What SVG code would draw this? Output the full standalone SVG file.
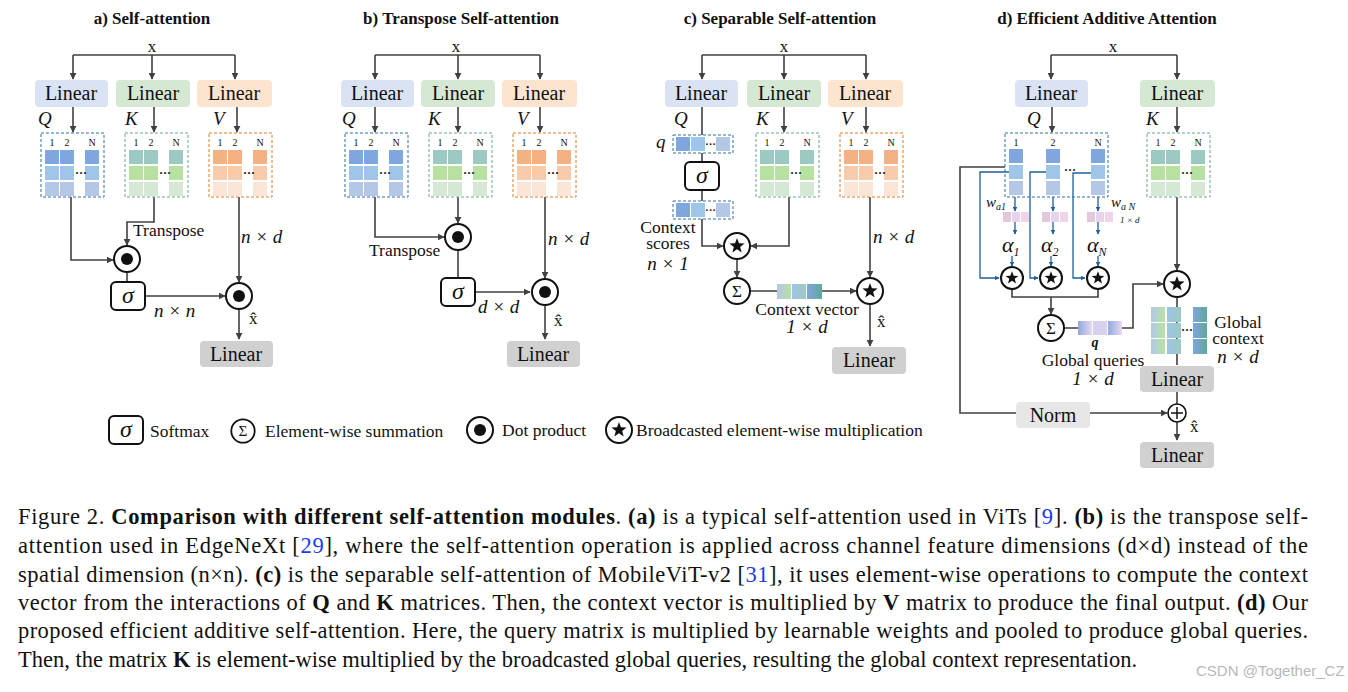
<svg xmlns="http://www.w3.org/2000/svg" xmlns:xlink="http://www.w3.org/1999/xlink" width="1348" height="692" viewBox="0 0 1348 692">
<style>
text{font-family:"Liberation Serif","Times New Roman",serif;fill:#111}
.t{font-size:17px;font-weight:bold;text-anchor:middle}
.lin{font-size:20px;text-anchor:middle}
.it{font-style:italic;font-size:19px}
.sm{font-size:17.5px}
.hd{font-size:10px;text-anchor:middle}
.ln{fill:none;stroke:#404040;stroke-width:1.6}
.bl{fill:none;stroke:#1f5f99;stroke-width:1.3}
.cap{font-size:22.5px}
.b{font-weight:bold}
.ref{fill:#1a3cf0}
</style>
<defs>
<marker id="ar" viewBox="0 0 10 10" refX="9" refY="5" markerWidth="7" markerHeight="7" orient="auto" markerUnits="userSpaceOnUse"><path d="M0,0L10,5L0,10z" fill="#404040"/></marker>
<marker id="ab" viewBox="0 0 10 10" refX="9" refY="5" markerWidth="5" markerHeight="5" orient="auto" markerUnits="userSpaceOnUse"><path d="M0,0L10,5L0,10z" fill="#1f5f99"/></marker>
<g id="mQ"><rect x="0" y="0" width="63" height="64" fill="none" stroke="#2e6f9e" stroke-dasharray="3,2"/>
<text class="hd" x="11" y="13">1</text><text class="hd" x="26" y="13">2</text><text class="hd" x="51" y="13">N</text>
<g fill="#7fa6de"><rect x="4" y="17" width="14" height="14"/><rect x="19" y="17" width="14" height="14"/><rect x="44" y="17" width="14" height="14"/></g>
<g fill="#9fc5e8"><rect x="4" y="33" width="14" height="14"/><rect x="19" y="33" width="14" height="14"/><rect x="44" y="33" width="14" height="14"/></g>
<g fill="#b4c7e7"><rect x="4" y="49" width="14" height="14"/><rect x="19" y="49" width="14" height="14"/><rect x="44" y="49" width="14" height="14"/></g>
<text x="34" y="44" font-size="12" font-weight="bold">···</text></g>
<g id="mK"><rect x="0" y="0" width="63" height="64" fill="none" stroke="#6aa39a" stroke-dasharray="3,2"/>
<text class="hd" x="11" y="13">1</text><text class="hd" x="26" y="13">2</text><text class="hd" x="51" y="13">N</text>
<g fill="#9cc9c1"><rect x="4" y="17" width="14" height="14"/><rect x="19" y="17" width="14" height="14"/><rect x="44" y="17" width="14" height="14"/></g>
<g fill="#b7e1a1"><rect x="4" y="33" width="14" height="14"/><rect x="19" y="33" width="14" height="14"/><rect x="44" y="33" width="14" height="14"/></g>
<g fill="#d5e8d4"><rect x="4" y="49" width="14" height="14"/><rect x="19" y="49" width="14" height="14"/><rect x="44" y="49" width="14" height="14"/></g>
<text x="34" y="44" font-size="12" font-weight="bold">···</text></g>
<g id="mV"><rect x="0" y="0" width="63" height="64" fill="none" stroke="#e07b24" stroke-dasharray="3,2"/>
<text class="hd" x="11" y="13">1</text><text class="hd" x="26" y="13">2</text><text class="hd" x="51" y="13">N</text>
<g fill="#f4b183"><rect x="4" y="17" width="14" height="14"/><rect x="19" y="17" width="14" height="14"/><rect x="44" y="17" width="14" height="14"/></g>
<g fill="#f8cbad"><rect x="4" y="33" width="14" height="14"/><rect x="19" y="33" width="14" height="14"/><rect x="44" y="33" width="14" height="14"/></g>
<g fill="#fbe5d6"><rect x="4" y="49" width="14" height="14"/><rect x="19" y="49" width="14" height="14"/><rect x="44" y="49" width="14" height="14"/></g>
<text x="34" y="44" font-size="12" font-weight="bold">···</text></g>
<g id="dot"><circle r="13" fill="#fff" stroke="#111" stroke-width="2"/><circle r="6" fill="#111"/></g>
<g id="star"><circle r="13" fill="#fff" stroke="#111" stroke-width="2"/><polygon fill="#111" points="0,-8 1.94,-2.67 7.61,-2.47 3.14,1.02 4.70,6.47 0,3.3 -4.70,6.47 -3.14,1.02 -7.61,-2.47 -1.94,-2.67"/></g>
<g id="sstar"><circle r="11" fill="#fff" stroke="#111" stroke-width="2"/><polygon fill="#111" transform="scale(0.85)" points="0,-8 1.94,-2.67 7.61,-2.47 3.14,1.02 4.70,6.47 0,3.3 -4.70,6.47 -3.14,1.02 -7.61,-2.47 -1.94,-2.67"/></g>
<g id="sum"><circle r="13" fill="#fff" stroke="#111" stroke-width="2"/><text y="6" font-size="17" text-anchor="middle">Σ</text></g>
<g id="sig"><rect x="-17" y="-14" width="34" height="28" rx="5" fill="#fff" stroke="#111" stroke-width="2"/><text y="7" font-size="24" font-style="italic" text-anchor="middle">σ</text></g>
<linearGradient id="g1"><stop offset="0" stop-color="#b4c7e7"/><stop offset="1" stop-color="#b7e1a1"/></linearGradient>
<linearGradient id="g2"><stop offset="0" stop-color="#9fc5e8"/><stop offset="1" stop-color="#9cc9c1"/></linearGradient>
<linearGradient id="g3"><stop offset="0" stop-color="#7fa6de"/><stop offset="1" stop-color="#5fa89a"/></linearGradient>
<linearGradient id="g4"><stop offset="0" stop-color="#8fa8e0"/><stop offset="1" stop-color="#e8d8f0"/></linearGradient>
<g id="pk"><rect x="0" y="0" width="8" height="10" fill="#e2c8dc"/><rect x="9" y="0" width="8" height="10" fill="#e6d4ec"/><rect x="18" y="0" width="8" height="10" fill="#f0d4ea"/></g>
</defs>

<text class="t" x="152" y="24">a) Self-attention</text>
<text class="t" x="461" y="24">b) Transpose Self-attention</text>
<text class="t" x="780" y="24">c) Separable Self-attention</text>
<text class="t" x="1107" y="24">d) Efficient Additive Attention</text>
<text x="152" y="52" font-size="17" text-anchor="middle">x</text>
<text x="456" y="52" font-size="17" text-anchor="middle">x</text>
<text x="784" y="52" font-size="17" text-anchor="middle">x</text>
<text x="1113" y="52" font-size="17" text-anchor="middle">x</text>

<g id="connectors">
<path class="ln" d="M73,55H235"/>
<path class="ln" d="M73,55V79" marker-end="url(#ar)"/><path class="ln" d="M152,55V79" marker-end="url(#ar)"/><path class="ln" d="M235,55V79" marker-end="url(#ar)"/>
<path class="ln" d="M73,107V132" marker-end="url(#ar)"/><path class="ln" d="M154,107V132" marker-end="url(#ar)"/><path class="ln" d="M237,107V132" marker-end="url(#ar)"/>
<path class="ln" d="M71,197V260H113" marker-end="url(#ar)"/>
<path class="ln" d="M154,197V222H127V245" marker-end="url(#ar)"/>
<path class="ln" d="M127,272V283"/>
<path class="ln" d="M145,296H225" marker-end="url(#ar)"/>
<path class="ln" d="M239,197V282" marker-end="url(#ar)"/>
<path class="ln" d="M239,309V339" marker-end="url(#ar)"/>
<path class="ln" d="M375,55H540"/>
<path class="ln" d="M375,55V79" marker-end="url(#ar)"/><path class="ln" d="M458,55V79" marker-end="url(#ar)"/><path class="ln" d="M540,55V79" marker-end="url(#ar)"/>
<path class="ln" d="M375,107V132" marker-end="url(#ar)"/><path class="ln" d="M458,107V132" marker-end="url(#ar)"/><path class="ln" d="M540,107V132" marker-end="url(#ar)"/>
<path class="ln" d="M375,197V237H444" marker-end="url(#ar)"/>
<path class="ln" d="M458,197V223" marker-end="url(#ar)"/>
<path class="ln" d="M458,250V278"/>
<path class="ln" d="M475,292H530" marker-end="url(#ar)"/>
<path class="ln" d="M545,197V278" marker-end="url(#ar)"/>
<path class="ln" d="M545,305V339" marker-end="url(#ar)"/>
<path class="ln" d="M702,55H866"/>
<path class="ln" d="M702,55V79" marker-end="url(#ar)"/><path class="ln" d="M784,55V79" marker-end="url(#ar)"/><path class="ln" d="M866,55V79" marker-end="url(#ar)"/>
<path class="ln" d="M702,107V135M702,153V162M702,188V201"/>
<path class="ln" d="M784,107V132" marker-end="url(#ar)"/><path class="ln" d="M866,107V132" marker-end="url(#ar)"/>
<path class="ln" d="M702,219V246H723" marker-end="url(#ar)"/>
<path class="ln" d="M789,197V246H751" marker-end="url(#ar)"/>
<path class="ln" d="M737,259V277" marker-end="url(#ar)"/>
<path class="ln" d="M750,291H777M822,291H856" marker-end="url(#ar)"/>
<path class="ln" d="M870,197V277" marker-end="url(#ar)"/>
<path class="ln" d="M870,305V346" marker-end="url(#ar)"/>
<path class="ln" d="M1051,55H1177"/>
<path class="ln" d="M1051,55V79" marker-end="url(#ar)"/><path class="ln" d="M1177,55V79" marker-end="url(#ar)"/>
<path class="ln" d="M1052,107V132" marker-end="url(#ar)"/><path class="ln" d="M1177,107V132" marker-end="url(#ar)"/>
<path class="bl" d="M1009,172H980V278H999" marker-end="url(#ab)"/>
<path class="bl" d="M1047,172H1030V278H1038" marker-end="url(#ab)"/>
<path class="bl" d="M1091,173H1073V278H1085" marker-end="url(#ab)"/>
<path class="bl" d="M1015,197V211" marker-end="url(#ab)"/><path class="bl" d="M1053,197V211" marker-end="url(#ab)"/><path class="bl" d="M1098,197V211" marker-end="url(#ab)"/>
<path class="bl" d="M1015,222V234" marker-end="url(#ab)"/><path class="bl" d="M1053,222V234" marker-end="url(#ab)"/><path class="bl" d="M1098,222V234" marker-end="url(#ab)"/>
<path class="bl" d="M1012,256V266" marker-end="url(#ab)"/><path class="bl" d="M1051,256V266" marker-end="url(#ab)"/><path class="bl" d="M1098,256V266" marker-end="url(#ab)"/>
<path class="ln" d="M1012,289V297H1098V289"/>
<path class="ln" d="M1051,297V314" marker-end="url(#ar)"/>
<path class="ln" d="M1064,328H1078M1122,328H1133V284H1163" marker-end="url(#ar)"/>
<path class="ln" d="M1177,197V270" marker-end="url(#ar)"/>
<path class="ln" d="M1177,297V365M1177,392V404"/>
<path class="ln" d="M1005,167H960V413H1016M1090,413H1167" marker-end="url(#ar)"/>
<path class="ln" d="M1177,422V440" marker-end="url(#ar)"/>
</g>

<g id="a-lin"><rect x="35" y="80" width="73" height="27" rx="4" fill="#dae3f3"/><text class="lin" x="71" y="100">Linear</text>
<rect x="116" y="80" width="74" height="27" rx="4" fill="#d5e8d4"/><text class="lin" x="153" y="100">Linear</text>
<rect x="197" y="80" width="75" height="27" rx="4" fill="#fde4cf"/><text class="lin" x="234" y="100">Linear</text>
<rect x="200" y="341" width="73" height="26" rx="4" fill="#d0d0d0"/><text class="lin" x="236" y="361">Linear</text></g>
<g id="a-mat"><use xlink:href="#mQ" x="41" y="133"/><use xlink:href="#mK" x="125" y="133"/><use xlink:href="#mV" x="209" y="133"/>
<text class="it" x="38" y="125">Q</text><text class="it" x="125" y="125">K</text><text class="it" x="213" y="125">V</text></g>
<g id="a-ops"><use xlink:href="#dot" x="127" y="259"/><use xlink:href="#sig" x="128" y="296"/><use xlink:href="#dot" x="239" y="296"/>
<text class="sm" x="133" y="236">Transpose</text><text class="it" x="154" y="317">n × n</text><text class="it" x="241" y="243">n × d</text><text x="249" y="324" font-size="17">x̂</text></g>

<g id="b-lin"><rect x="341" y="80" width="73" height="27" rx="4" fill="#dae3f3"/><text class="lin" x="377" y="100">Linear</text>
<rect x="421" y="80" width="74" height="27" rx="4" fill="#d5e8d4"/><text class="lin" x="458" y="100">Linear</text>
<rect x="502" y="80" width="75" height="27" rx="4" fill="#fde4cf"/><text class="lin" x="539" y="100">Linear</text>
<rect x="507" y="341" width="73" height="26" rx="4" fill="#d0d0d0"/><text class="lin" x="543" y="361">Linear</text></g>
<g id="b-mat"><use xlink:href="#mQ" x="345" y="133"/><use xlink:href="#mK" x="429" y="133"/><use xlink:href="#mV" x="513" y="133"/>
<text class="it" x="342" y="125">Q</text><text class="it" x="428" y="125">K</text><text class="it" x="517" y="125">V</text></g>
<g id="b-ops"><use xlink:href="#dot" x="458" y="237"/><use xlink:href="#sig" x="458" y="292"/><use xlink:href="#dot" x="545" y="292"/>
<text class="sm" x="369" y="256">Transpose</text><text class="it" x="478" y="313">d × d</text><text class="it" x="548" y="245">n × d</text><text x="554" y="326" font-size="17">x̂</text></g>

<g id="c-lin"><rect x="665" y="80" width="73" height="27" rx="4" fill="#dae3f3"/><text class="lin" x="701" y="100">Linear</text>
<rect x="747" y="80" width="74" height="27" rx="4" fill="#d5e8d4"/><text class="lin" x="784" y="100">Linear</text>
<rect x="828" y="80" width="75" height="27" rx="4" fill="#fde4cf"/><text class="lin" x="865" y="100">Linear</text>
<rect x="832" y="347" width="74" height="27" rx="4" fill="#d0d0d0"/><text class="lin" x="869" y="367">Linear</text></g>
<g id="c-mat"><use xlink:href="#mK" x="756" y="133"/><use xlink:href="#mV" x="840" y="133"/>
<text class="it" x="674" y="125">Q</text><text class="it" x="756" y="125">K</text><text class="it" x="841" y="125">V</text>
<rect x="673" y="135" width="60" height="18" fill="none" stroke="#2e6f9e" stroke-dasharray="3,2"/>
<rect x="676" y="137" width="14" height="14" fill="#7fa6de"/><rect x="691" y="137" width="14" height="14" fill="#9fc5e8"/><rect x="716" y="137" width="14" height="14" fill="#b4c7e7"/><text x="705" y="148" font-size="11" font-weight="bold">···</text>
<rect x="673" y="201" width="60" height="18" fill="none" stroke="#2e6f9e" stroke-dasharray="3,2"/>
<rect x="676" y="203" width="14" height="14" fill="#7fa6de"/><rect x="691" y="203" width="14" height="14" fill="#9fc5e8"/><rect x="716" y="203" width="14" height="14" fill="#b4c7e7"/><text x="705" y="214" font-size="11" font-weight="bold">···</text>
<text class="it" x="656" y="148">q</text></g>
<g id="c-ops"><use xlink:href="#sig" x="702" y="176"/><use xlink:href="#star" x="737" y="246"/><use xlink:href="#sum" x="737" y="291"/><use xlink:href="#star" x="870" y="291"/>
<rect x="777" y="284" width="14" height="15" fill="url(#g1)"/><rect x="792" y="284" width="14" height="15" fill="url(#g2)"/><rect x="807" y="284" width="15" height="15" fill="url(#g3)"/>
<text class="sm" x="668" y="233" text-anchor="middle">Context</text><text class="sm" x="668" y="249" text-anchor="middle">scores</text><text class="it" x="668" y="270" text-anchor="middle">n × 1</text>
<text class="sm" x="807" y="315" text-anchor="middle">Context vector</text><text class="it" x="807" y="333" text-anchor="middle">1 × d</text>
<text class="it" x="873" y="243">n × d</text><text x="877" y="327" font-size="17">x̂</text></g>

<g id="d-lin"><rect x="1015" y="80" width="73" height="27" rx="4" fill="#dae3f3"/><text class="lin" x="1051" y="100">Linear</text>
<rect x="1140" y="80" width="75" height="27" rx="4" fill="#d5e8d4"/><text class="lin" x="1177" y="100">Linear</text>
<rect x="1140" y="366" width="74" height="26" rx="4" fill="#d0d0d0"/><text class="lin" x="1177" y="386">Linear</text>
<rect x="1016" y="402" width="74" height="26" rx="4" fill="#e6e6e6"/><text class="lin" x="1053" y="422">Norm</text>
<rect x="1140" y="442" width="74" height="26" rx="4" fill="#d0d0d0"/><text class="lin" x="1177" y="462">Linear</text></g>
<g id="d-mat"><text class="it" x="1027" y="125">Q</text><text class="it" x="1146" y="125">K</text>
<rect x="1005" y="133" width="103" height="64" fill="none" stroke="#2e6f9e" stroke-dasharray="3,2"/>
<text class="hd" x="1016" y="146">1</text><text class="hd" x="1053" y="146">2</text><text class="hd" x="1098" y="146">N</text>
<g fill="#7fa6de"><rect x="1009" y="149" width="14" height="14"/><rect x="1046" y="149" width="14" height="14"/><rect x="1091" y="149" width="14" height="14"/></g>
<g fill="#9fc5e8"><rect x="1009" y="165" width="14" height="14"/><rect x="1046" y="165" width="14" height="14"/><rect x="1091" y="165" width="14" height="14"/></g>
<g fill="#b4c7e7"><rect x="1009" y="181" width="14" height="14"/><rect x="1046" y="181" width="14" height="14"/><rect x="1091" y="181" width="14" height="14"/></g>
<text x="1064" y="174" font-size="12" font-weight="bold">···</text>
<use xlink:href="#mK" x="1147" y="133"/>
<use xlink:href="#pk" x="1003" y="212"/><use xlink:href="#pk" x="1042" y="212"/><use xlink:href="#pk" x="1087" y="212"/>
<text x="986" y="207" style="font-size:15px;font-style:italic">w<tspan style="font-size:10px" dy="3">a1</tspan></text>
<text x="1111" y="207" style="font-size:15px;font-style:italic">w<tspan style="font-size:10px" dy="3">a N</tspan></text><text x="1120" y="223" style="font-size:9px;font-style:italic">1 × d</text>
<text x="1002" y="252" style="font-size:22px;font-style:italic">α<tspan style="font-size:12px" dy="4">1</tspan></text>
<text x="1041" y="252" style="font-size:22px;font-style:italic">α<tspan style="font-size:12px" dy="4">2</tspan></text>
<text x="1087" y="252" style="font-size:22px;font-style:italic">α<tspan style="font-size:12px" dy="4">N</tspan></text></g>
<g id="d-ops"><use xlink:href="#sstar" x="1012" y="278"/><use xlink:href="#sstar" x="1051" y="278"/><use xlink:href="#sstar" x="1098" y="278"/>
<use xlink:href="#sum" x="1051" y="328"/><use xlink:href="#star" x="1177" y="284"/>
<rect x="1078" y="321" width="14" height="14" fill="url(#g4)"/><rect x="1093" y="321" width="14" height="14" fill="#d8d0ec"/><rect x="1108" y="321" width="14" height="14" fill="url(#g4)"/>
<text x="1095" y="347" text-anchor="middle" style="font-size:14px;font-style:italic;font-weight:bold">q</text>
<text class="sm" x="1093" y="366" text-anchor="middle">Global queries</text><text class="it" x="1093" y="385" text-anchor="middle">1 × d</text>
<g><rect x="1151" y="307" width="14" height="15" fill="url(#g1)"/><rect x="1167" y="307" width="14" height="15" fill="url(#g2)"/><rect x="1193" y="307" width="14" height="15" fill="url(#g3)"/>
<rect x="1151" y="323" width="14" height="15" fill="url(#g1)"/><rect x="1167" y="323" width="14" height="15" fill="url(#g2)"/><rect x="1193" y="323" width="14" height="15" fill="url(#g3)"/>
<rect x="1151" y="339" width="14" height="15" fill="url(#g1)"/><rect x="1167" y="339" width="14" height="15" fill="url(#g2)"/><rect x="1193" y="339" width="14" height="15" fill="url(#g3)"/>
<text x="1181" y="334" font-size="12" font-weight="bold">···</text></g>
<text class="sm" x="1238" y="328" text-anchor="middle">Global</text><text class="sm" x="1238" y="344" text-anchor="middle">context</text><text class="it" x="1238" y="363" text-anchor="middle">n × d</text>
<circle cx="1177" cy="413" r="9" fill="#fff" stroke="#111" stroke-width="1.6"/><path d="M1171,413H1183M1177,407V419" stroke="#111" stroke-width="1.5"/>
<text x="1190" y="432" font-size="17">x̂</text></g>

<g id="legend"><use xlink:href="#sig" x="126" y="430"/><text class="sm" x="150" y="437">Softmax</text>
<g transform="translate(243,431) scale(0.9)"><use xlink:href="#sum"/></g><text class="sm" x="265" y="437">Element-wise summation</text>
<use xlink:href="#dot" x="480" y="430"/><text class="sm" x="502" y="436">Dot product</text>
<use xlink:href="#star" x="619" y="430"/><text class="sm" x="636" y="436">Broadcasted element-wise multiplication</text></g>

<g id="caption">
<text class="cap" x="18" y="524" textLength="1290" lengthAdjust="spacing">Figure 2. <tspan class="b">Comparison with different self-attention modules</tspan>. <tspan class="b">(a)</tspan> is a typical self-attention used in ViTs [<tspan class="ref">9</tspan>]. <tspan class="b">(b)</tspan> is the transpose self-</text>
<text class="cap" x="18" y="553" textLength="1290" lengthAdjust="spacing">attention used in EdgeNeXt  [<tspan class="ref">29</tspan>], where the self-attention operation is applied across channel feature dimensions (d×d) instead of the</text>
<text class="cap" x="18" y="582" textLength="1290" lengthAdjust="spacing">spatial dimension (n×n). <tspan class="b">(c)</tspan> is the separable self-attention of MobileViT-v2 [<tspan class="ref">31</tspan>], it uses element-wise operations to compute the context</text>
<text class="cap" x="18" y="610" textLength="1290" lengthAdjust="spacing">vector from the interactions of <tspan class="b">Q</tspan> and <tspan class="b">K</tspan> matrices. Then, the context vector is multiplied by <tspan class="b">V</tspan> matrix to produce the final output. <tspan class="b">(d)</tspan> Our</text>
<text class="cap" x="18" y="638" textLength="1290" lengthAdjust="spacing">proposed efficient additive self-attention. Here, the query matrix is multiplied by learnable weights and pooled to produce global queries.</text>
<text class="cap" x="18" y="667">Then, the matrix <tspan class="b">K</tspan> is element-wise multiplied by the broadcasted global queries, resulting the global context representation.</text>
</g>
<text x="1196" y="676" style="fill:#b8b8b8;font-family:'Liberation Sans',sans-serif;font-size:15px">CSDN @Together_CZ</text>
</svg>
